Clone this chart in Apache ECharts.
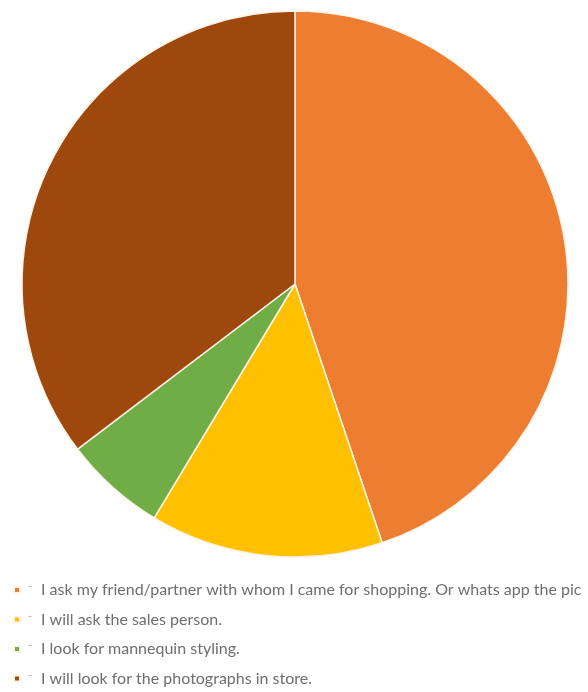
<!DOCTYPE html>
<html>
<head>
<meta charset="utf-8">
<script src="https://cdn.jsdelivr.net/npm/echarts@6/dist/echarts.min.js"></script>
<style>
  html, body { margin: 0; padding: 0; background: #ffffff; }
  #chart { width: 588px; height: 692px; }
</style>
</head>
<body>
<div id="chart"></div>
<script>
// Survey answers: what respondents do when unsure how to style an outfit
const categories = [
  'I ask my friend/partner with whom I came for shopping. Or whats app the pic',
  'I will ask the sales person.',
  'I look for mannequin styling.',
  'I will look for the photographs in store.'
];
const responses = [52, 16, 7, 41];
const sliceColors = ['#ED7D31', '#FFC000', '#70AD47', '#9E480E'];

const chart = echarts.init(document.getElementById('chart'), null, { renderer: 'canvas' });

chart.setOption({
  backgroundColor: '#ffffff',
  animation: false,
  color: sliceColors,
  legend: {
    orient: 'vertical',
    left: 8,
    top: 577,
    height: 200,
    itemWidth: 6,
    itemHeight: 6,
    itemGap: 13.5,
    icon: 'rect',
    selectedMode: false,
    formatter: name => '{m|ˉ}{t|' + name + '}',
    textStyle: {
      rich: {
        m: { width: 13, align: 'left', padding: [0, 0, 0, 3], fontSize: 10, color: '#8a8a8a', fontFamily: 'Lato' },
        t: { fontSize: 16, lineHeight: 16, color: '#6e6e6e', fontFamily: 'Lato' }
      }
    },
    data: categories
  },
  series: [{
    type: 'pie',
    center: [295, 284],
    radius: 273,
    startAngle: 90,
    clockwise: true,
    label: { show: false },
    labelLine: { show: false },
    emphasis: { disabled: true },
    itemStyle: { borderColor: '#fff4e6', borderWidth: 1.5 },
    data: categories.map((name, i) => ({ name, value: responses[i] }))
  }]
});
</script>
</body>
</html>
